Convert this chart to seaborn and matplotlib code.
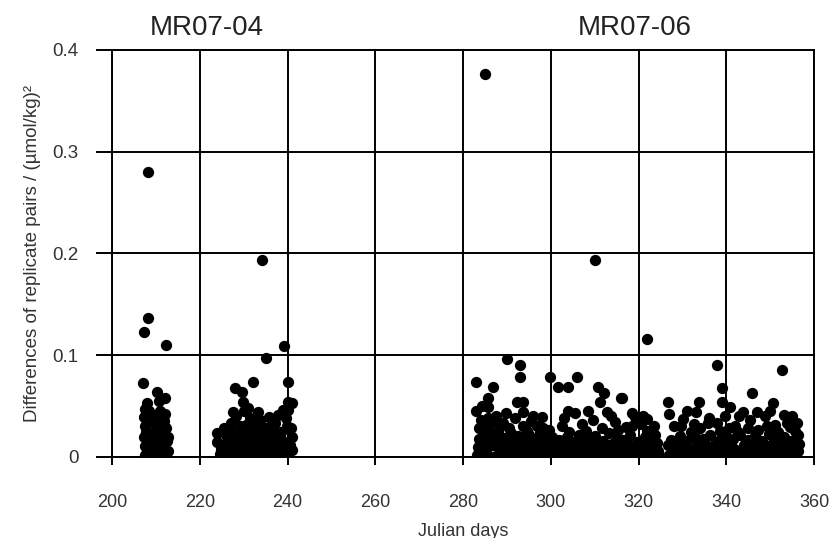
import numpy as np
import pandas as pd
import seaborn as sns
import matplotlib.pyplot as plt

# MR07-04, first group (days 207-213)
leg1_days = [208.2, 208.2, 207.2, 212.2, 207.1, 210.2, 212.0, 208.0, 210.6, 207.5,
             211.0, 209.2, 207.3, 209.8, 211.8, 207.6, 210.0, 212.3, 208.5, 207.2,
             211.2, 209.3, 212.5, 207.4, 208.6, 210.4, 211.6, 208.0, 209.6, 211.0,
             212.8, 207.6, 209.0, 210.8, 212.4, 207.9, 210.1, 211.9,
             208.5, 209.5, 211.5, 208.0, 210.5, 212.0, 207.8, 209.0, 211.3, 212.7]
leg1_diff = [0.280, 0.137, 0.123, 0.110, 0.073, 0.064, 0.058, 0.053, 0.055, 0.047,
             0.045, 0.041, 0.039, 0.036, 0.035, 0.030, 0.031, 0.028, 0.022, 0.020,
             0.021, 0.014, 0.016, 0.011, 0.009, 0.012, 0.010, 0.004, 0.005, 0.003,
             0.006, 0.002, 0.001, 0.008, 0.001, 0.017, 0.020, 0.013,
             0.045, 0.025, 0.025, 0.033, 0.040, 0.042, 0.025, 0.007, 0.015, 0.020]

# MR07-04, second group (days 224-241)
leg2_days = [234.2, 239.2, 235.1, 232.1, 240.0, 228.0, 229.6, 229.9, 240.0, 241.0,
             231.0, 240.0, 227.6, 233.3, 237.8, 231.5, 233.7, 237.2, 227.0, 229.2,
             234.4, 224.0, 241.0, 224.0, 238.5, 226.0, 236.0, 230.5, 232.5, 239.8,
             228.5,
             224.5, 225.8, 226.8, 227.9, 229.0, 230.1, 231.2, 232.3, 233.4, 234.5,
             235.6, 236.7, 237.8, 238.9, 240.0, 241.0,
             225.2, 227.3, 229.6, 231.8, 233.0, 235.0, 236.2, 237.5, 239.4, 240.6,
             226.5, 228.8, 230.9, 234.0, 238.2,
             224.8, 226.2, 227.5, 228.6, 229.8, 230.6, 231.7, 232.9, 233.9, 235.2,
             236.5, 237.3, 238.6, 239.6, 240.8, 225.5, 228.2, 230.0, 235.8, 239.0]
leg2_diff = [0.194, 0.109, 0.097, 0.074, 0.074, 0.068, 0.064, 0.054, 0.054, 0.053,
             0.048, 0.046, 0.044, 0.044, 0.041, 0.038, 0.036, 0.033, 0.033, 0.030,
             0.029, 0.024, 0.020, 0.015, 0.025, 0.022, 0.022, 0.024, 0.020, 0.030,
             0.018,
             0.003, 0.006, 0.001, 0.009, 0.002, 0.007, 0.001, 0.010, 0.003, 0.006,
             0.002, 0.008, 0.001, 0.005, 0.002, 0.007,
             0.012, 0.016, 0.013, 0.017, 0.014, 0.016, 0.013, 0.018, 0.014, 0.012,
             0.010, 0.022, 0.011, 0.012, 0.009,
             0.008, 0.015, 0.024, 0.011, 0.020, 0.031, 0.026, 0.030, 0.022, 0.027,
             0.032, 0.024, 0.018, 0.038, 0.028, 0.028, 0.040, 0.045, 0.039, 0.046]

# MR07-06, days 283-300
leg3_days = [285.0, 290.0, 293.0, 293.0, 283.0, 286.8, 299.8, 285.7, 285.7, 283.0,
             292.3, 293.7, 293.7, 298.0, 291.8, 287.5, 289.0, 295.5, 296.8, 284.0,
             290.5, 294.5, 297.5, 299.5, 288.0, 286.0,
             283.2, 284.3, 285.4, 286.5, 287.6, 288.7, 289.8, 290.9, 292.0, 293.1,
             294.2, 295.3, 296.4, 297.5, 298.6, 299.7, 300.5,
             283.6, 285.0, 286.9, 288.2, 289.5, 291.3, 292.6, 294.0, 295.8, 297.0,
             298.8, 300.0, 284.6, 291.0, 293.6,
             283.4, 284.8, 286.1, 287.3, 288.5, 289.2, 290.3, 291.6, 292.9, 294.6,
             295.0, 296.1, 297.9, 298.3, 299.2, 300.3, 284.2, 287.0, 289.8, 296.0,
             283.5, 285.6]
leg3_diff = [0.376, 0.096, 0.090, 0.079, 0.074, 0.069, 0.079, 0.058, 0.049, 0.045,
             0.054, 0.054, 0.044, 0.039, 0.038, 0.040, 0.033, 0.035, 0.030, 0.036,
             0.028, 0.026, 0.024, 0.027, 0.025, 0.030,
             0.002, 0.008, 0.003, 0.012, 0.001, 0.006, 0.002, 0.010, 0.004, 0.009,
             0.001, 0.007, 0.003, 0.011, 0.002, 0.006, 0.002,
             0.018, 0.016, 0.020, 0.014, 0.019, 0.017, 0.021, 0.015, 0.018, 0.016,
             0.019, 0.013, 0.026, 0.024, 0.030,
             0.010, 0.005, 0.023, 0.012, 0.030, 0.010, 0.020, 0.008, 0.013, 0.009,
             0.022, 0.011, 0.007, 0.028, 0.012, 0.020, 0.050, 0.035, 0.043, 0.040,
             0.028, 0.038]

# MR07-06, days 301-325
leg4_days = [310.1, 322.0, 301.7, 304.0, 306.0, 310.8, 312.0, 316.0, 316.2, 311.2,
             304.0, 305.5, 308.5, 312.8, 319.2, 322.0, 317.0, 320.5, 323.5, 314.5,
             309.5, 302.5, 307.0, 321.0,
             301.3, 302.4, 303.5, 304.6, 305.7, 306.8, 307.9, 309.0, 310.1, 311.2,
             312.3, 313.4, 314.5, 315.6, 316.7, 317.8, 318.9, 320.0, 321.1, 322.2,
             323.3, 324.3,
             301.8, 303.7, 305.2, 306.5, 308.2, 310.0, 311.8, 313.2, 315.0, 316.4,
             318.0, 319.6, 321.5, 323.0, 324.2,
             301.0, 302.9, 304.1, 305.4, 306.9, 308.0, 309.4, 310.6, 311.6, 312.9,
             314.0, 315.2, 316.1, 317.3, 318.5, 319.3, 320.4, 321.8, 322.7, 323.8,
             324.6, 303.0, 313.8, 318.5]
leg4_diff = [0.194, 0.116, 0.069, 0.069, 0.079, 0.069, 0.063, 0.058, 0.058, 0.054,
             0.045, 0.043, 0.045, 0.044, 0.039, 0.037, 0.029, 0.032, 0.030, 0.034,
             0.036, 0.030, 0.032, 0.040,
             0.003, 0.009, 0.002, 0.011, 0.004, 0.008, 0.001, 0.010, 0.003, 0.007,
             0.002, 0.012, 0.004, 0.008, 0.001, 0.010, 0.003, 0.006, 0.002, 0.009,
             0.003, 0.006,
             0.017, 0.020, 0.015, 0.022, 0.018, 0.021, 0.016, 0.024, 0.019, 0.017,
             0.022, 0.015, 0.020, 0.018, 0.014,
             0.012, 0.014, 0.025, 0.009, 0.014, 0.026, 0.014, 0.012, 0.028, 0.007,
             0.013, 0.027, 0.010, 0.013, 0.030, 0.008, 0.013, 0.026, 0.012, 0.022,
             0.002, 0.038, 0.040, 0.043]

# MR07-06, days 326-356
leg5_days = [337.9, 352.7, 339.0, 345.9, 326.7, 333.8, 339.0, 350.7, 340.9, 331.0,
             343.8, 347.0, 330.0, 339.7, 348.8, 353.0, 355.0, 335.8, 337.9, 328.0,
             332.5, 342.0, 345.0, 351.0, 354.5, 356.0,
             326.8, 327.9, 329.0, 330.1, 331.2, 332.3, 333.4, 334.5, 335.6, 336.7,
             337.8, 338.9, 340.0, 341.1, 342.2, 343.3, 344.4, 345.5, 346.6, 347.7,
             348.8, 349.9, 351.0, 352.1, 353.2, 354.3, 355.4, 356.3,
             327.3, 329.4, 331.0, 332.8, 334.6, 336.2, 338.0, 339.8, 341.5, 343.0,
             344.8, 346.5, 348.0, 349.6, 351.3, 353.0, 354.8, 356.2,
             326.6, 328.4, 329.7, 330.6, 331.9, 333.2, 334.0, 335.2, 336.0, 337.2,
             338.5, 339.4, 340.6, 341.8, 342.6, 344.0, 345.4, 346.0, 347.3, 348.4,
             349.2, 350.4, 351.8, 352.6, 353.8, 354.0, 355.7, 356.5, 327.0, 333.0,
             342.8, 350.0]
leg5_diff = [0.090, 0.085, 0.068, 0.063, 0.054, 0.054, 0.054, 0.053, 0.049, 0.045,
             0.044, 0.044, 0.037, 0.040, 0.040, 0.041, 0.040, 0.033, 0.033, 0.030,
             0.032, 0.030, 0.028, 0.031, 0.029, 0.033,
             0.002, 0.008, 0.003, 0.011, 0.001, 0.007, 0.002, 0.010, 0.004, 0.008,
             0.001, 0.009, 0.003, 0.012, 0.002, 0.007, 0.001, 0.010, 0.003, 0.008,
             0.002, 0.011, 0.004, 0.007, 0.001, 0.009, 0.003, 0.006,
             0.017, 0.021, 0.016, 0.020, 0.018, 0.022, 0.016, 0.020, 0.018, 0.022,
             0.017, 0.021, 0.016, 0.023, 0.018, 0.020, 0.016, 0.022,
             0.012, 0.013, 0.030, 0.008, 0.025, 0.012, 0.028, 0.013, 0.038, 0.012,
             0.026, 0.012, 0.028, 0.008, 0.025, 0.012, 0.036, 0.013, 0.027, 0.011,
             0.030, 0.013, 0.025, 0.012, 0.033, 0.012, 0.026, 0.013, 0.042, 0.044,
             0.040, 0.045]

cruise_labels = ["MR07-04", "MR07-06"]
cruise_label_days = [221.5, 319.0]

x_ticks = [200, 220, 240, 260, 280, 300, 320, 340, 360]
y_ticks = [0, 0.1, 0.2, 0.3, 0.4]
y_tick_labels = ["0", "0.1", "0.2", "0.3", "0.4"]

df = pd.DataFrame({
    "day": leg1_days + leg2_days + leg3_days + leg4_days + leg5_days,
    "diff": leg1_diff + leg2_diff + leg3_diff + leg4_diff + leg5_diff,
})

sns.set_style("white")
plt.rcParams["font.family"] = ["Liberation Sans", "DejaVu Sans"]
text_col = "#333333"

fig = plt.figure(figsize=(8.3, 5.38), dpi=100)
ax = fig.add_axes([0.135, 0.1506, 0.846, 0.7565])

sns.scatterplot(data=df, x="day", y="diff", color="black", s=66,
                edgecolor="black", linewidth=0, ax=ax, zorder=3)

ax.set_xlim(200, 360)
ax.set_ylim(0, 0.4)
ax.set_xticks(x_ticks)
ax.set_yticks(y_ticks)
ax.set_yticklabels(y_tick_labels)
ax.grid(True, color="black", linewidth=1.4)
for sp in ax.spines.values():
    sp.set_color("black")
    sp.set_linewidth(1.4)
ax.tick_params(axis="both", length=0, labelcolor=text_col)
ax.tick_params(axis="x", pad=27, labelsize=13)
ax.tick_params(axis="y", pad=24, labelsize=13.5)

# the grid lines run on past the frame as outward ticks
ax.vlines(x_ticks, -0.0197, 0, transform=ax.get_xaxis_transform(), colors="black",
          linewidth=1.4, clip_on=False)
ax.hlines(y_ticks, -0.023, 0, transform=ax.get_yaxis_transform(), colors="black",
          linewidth=1.4, clip_on=False)

ax.set_xlabel("Julian days", fontsize=13, labelpad=8, color=text_col)
ax.set_ylabel("Differences of replicate pairs / (\u00b5mol/kg)\u00b2", fontsize=13.5,
              labelpad=8, color=text_col)

for lab, d in zip(cruise_labels, cruise_label_days):
    ax.text(d, 0.4216, lab, ha="center", va="center", fontsize=20,
            color="#222222", clip_on=False)

fig.savefig("out.png", dpi=100)
